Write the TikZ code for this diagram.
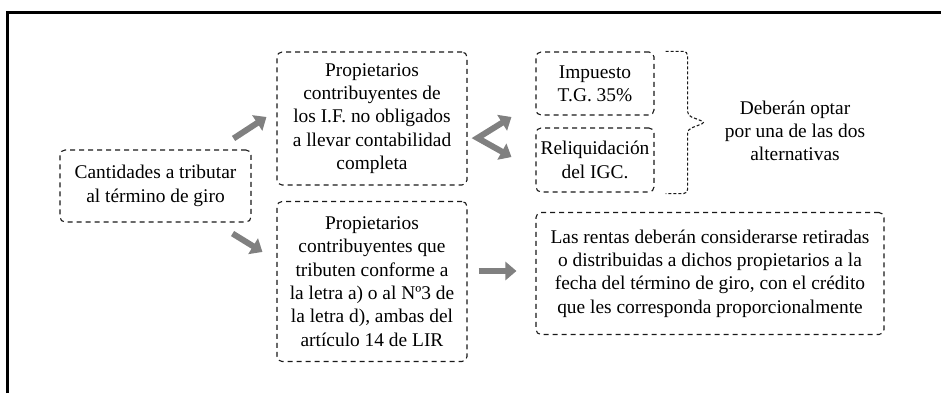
\documentclass[tikz,border=0pt]{standalone}
\usepackage{fontspec}
\setmainfont{Liberation Serif}
\usetikzlibrary{calc,arrows.meta}

\begin{document}
\begin{tikzpicture} [x=1pt,y=-1pt,
  caja/.style=
  {rectangle,rounded corners=5pt,draw=black!90,line width=1.1pt,
    dash pattern=on 5pt off 4pt,align=center,inner sep=0pt,
    font=\fontsize{19.4}{23.3}\selectfont},
  texto/.style={align=center,font=\fontsize{19.4}{23.3}\selectfont},
  flecha/.style=
  {draw=black!50,line width=6pt,line join=miter,
    -{Triangle[length=11pt,width=18pt]}},
  llave/.style={draw=black!90,line width=1.1pt,dash pattern=on 3pt off 2pt,
    rounded corners=4pt}]
\useasboundingbox (0,0) rectangle (941,393);
\draw [line width=3pt] (7,393) -- (7,13) -- (941,13);
\node [caja,minimum width=191pt,minimum height=72pt] (cantidades) at (155.5,186) {Cantidades a tributar\\al término de giro};
\node [caja,minimum width=190pt,minimum height=133pt] (noObligados) at ($(cantidades.center)+(216.5,-67.5)$) {Propietarios\\contribuyentes de\\los I.F. no obligados\\a llevar contabilidad\\completa};
\node [caja,minimum width=190pt,minimum height=160pt] (letraA) at ($(noObligados.center)+(0,163)$) {Propietarios\\contribuyentes que\\tributen conforme a\\la letra a) o al Nº3 de\\la letra d), ambas del\\artículo 14 de LIR};
\node [caja,minimum width=118pt,minimum height=63pt] (impuesto) at ($(noObligados.center)+(223,-35)$) {Impuesto\\T.G. 35\%};
\node [caja,minimum width=118pt,minimum height=64pt] (reliquidacion) at ($(impuesto.center)+(0,76.5)$) {Reliquidación\\del IGC.};
\node [caja,minimum width=348pt,minimum height=122pt] (rentas) at ($(letraA.center)+(338,-8)$) {Las rentas deberán considerarse retiradas\\o distribuidas a dichos propietarios a la\\fecha del término de giro, con el crédito\\que les corresponda proporcionalmente};
\node [texto] (deberan) at (795,131) {Deberán optar\\por una de las dos\\alternativas};
% llave de las dos alternativas
\coordinate (punta) at ($(impuesto.north east)+(51,71)$);
\draw [llave] ($(impuesto.north east)+(11,0)$) -- ($(impuesto.north east)+(33,0)$)
  -- ($(impuesto.north east)+(33,64)$) -- (punta) -- ($(impuesto.north east)+(33,78)$)
  -- ($(reliquidacion.south east)+(33,1)$) -- ($(reliquidacion.south east)+(11,1)$);
% flechas
\draw [flecha] ($(cantidades.north east)+(-18,-11)$) -- ($(noObligados.west)+(-10,-1.5)$);
\draw [flecha] ($(cantidades.south east)+(-19,11)$) -- ($(letraA.north west)+(-14,51)$);
\coordinate (vertice) at ($(noObligados.east)+(10,19.5)$);
\draw [flecha,{Triangle[length=11pt,width=18pt]}-{Triangle[length=11pt,width=18pt]}] ($(impuesto.west)+(-24,33.5)$) -- (vertice) -- ($(reliquidacion.west)+(-24,-3)$);
\draw [flecha] ($(letraA.east)+(11,-10.5)$) -- ($(rentas.west)+(-19,-2.5)$);
\end{tikzpicture}
\end{document}
